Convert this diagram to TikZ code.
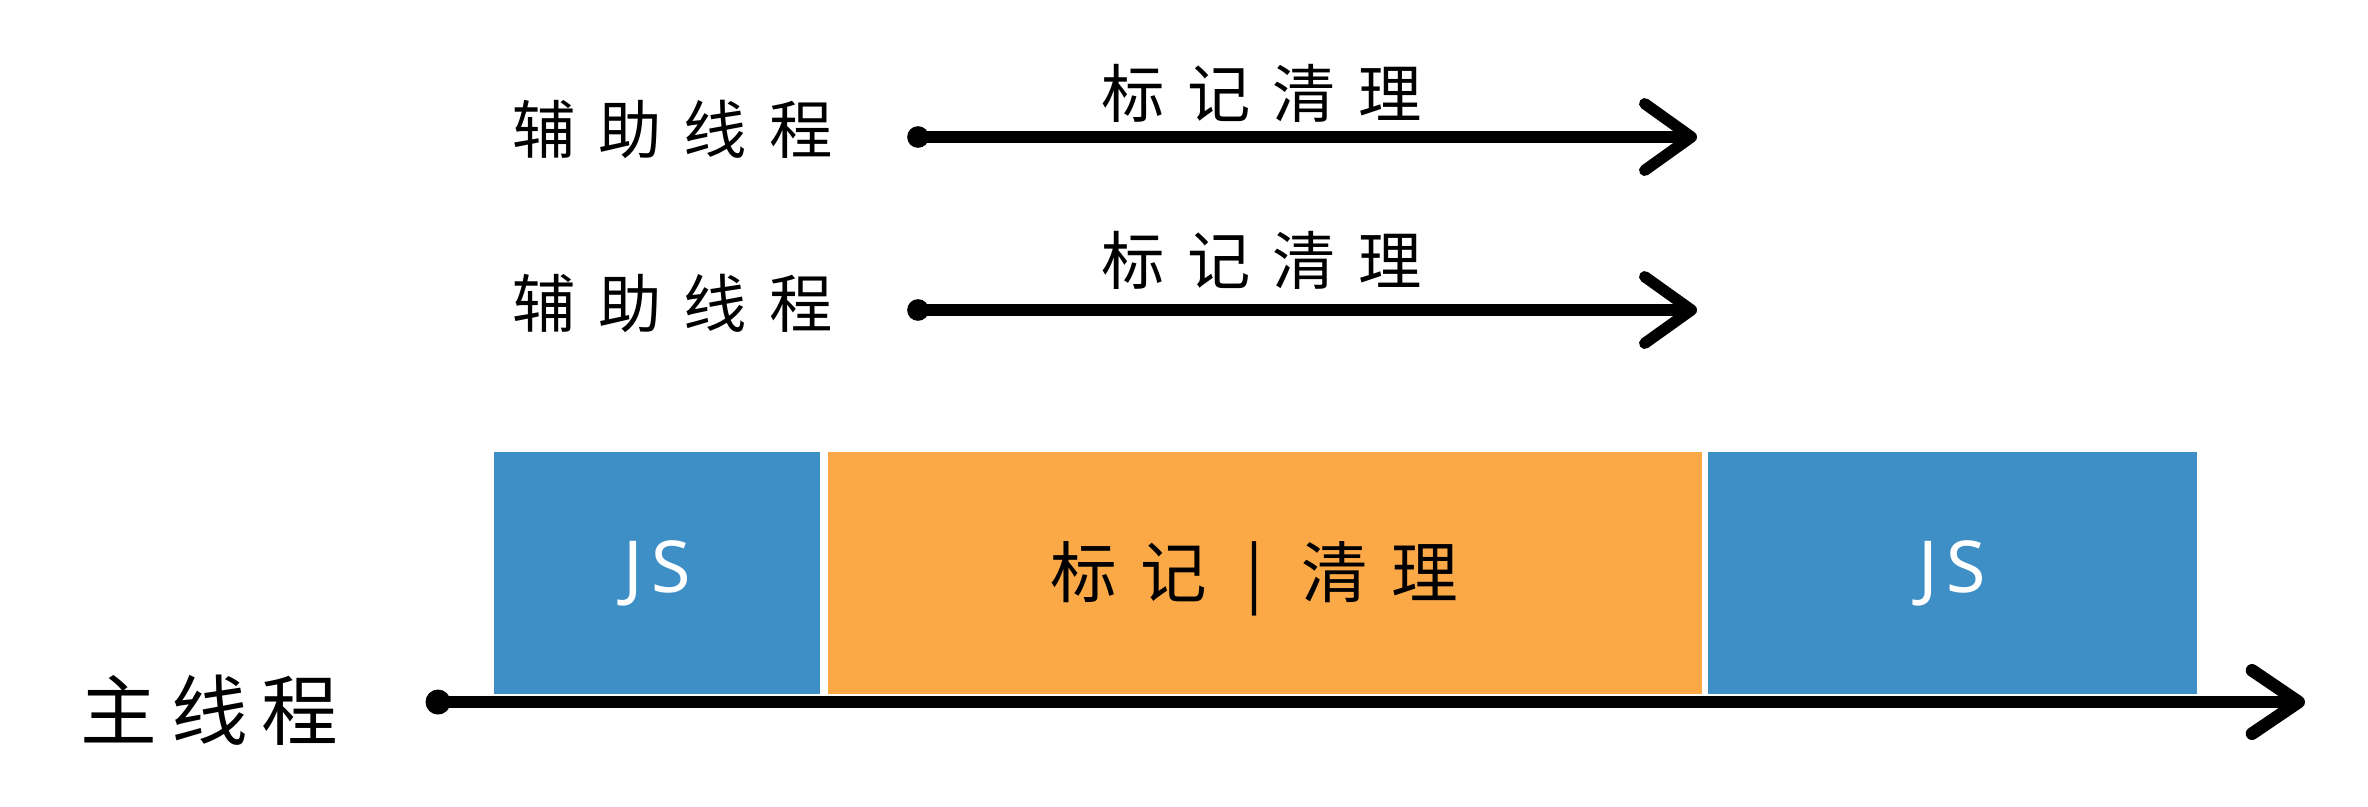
\documentclass[tikz,border=0pt]{standalone}
\usepackage{fontspec}
\usetikzlibrary{arrows.meta}
\newfontfamily\cjk[LetterSpace=35]{Noto Sans CJK SC}
\newfontfamily\cjkmain[LetterSpace=18]{Noto Sans CJK SC}
\newfontfamily\jsfont[LetterSpace=12]{Noto Sans}
\definecolor{jsblue}{HTML}{3F8FC7}
\definecolor{gcorange}{HTML}{FBA847}
\tikzset{
  lbl/.style={inner sep=0pt, anchor=west, font=\cjk\fontsize{19}{19}\selectfont},
  mainlbl/.style={inner sep=0pt, anchor=west, font=\cjkmain\fontsize{23}{23}\selectfont},
  blk/.style={draw=none, inner sep=0pt, minimum height=72.6pt},
  jsblk/.style={blk, fill=jsblue, text=white, font=\jsfont\fontsize{21.5}{21.5}\selectfont},
  gcblk/.style={blk, fill=gcorange},
  gctext/.style={inner sep=0pt, anchor=west, text=black, font=\cjk\fontsize{20}{20}\selectfont},
  thread/.style={line width=3.4pt, line cap=round,
    -{Straight Barb[length=14pt, width=20pt, line width=3.4pt, round]}},
  mainthread/.style={line width=3.8pt, line cap=round,
    -{Straight Barb[length=14pt, width=19pt, line width=3.8pt, round]}},
  blob/.style={circle, fill=black, inner sep=0pt, minimum size=6.5pt}
}
\begin{document}
\begin{tikzpicture}[x=0.3pt, y=-0.3pt]
\useasboundingbox (0,0) rectangle (2368,806);
% helper thread 1
\node[lbl] (h1) at (512,129) {辅助线程};
\coordinate (h1s) at (918,137);
\coordinate (h1e) at (1697,137);
\node[blob] (h1b) at (h1s) {};
\draw[thread] (h1s) -- (h1e);
\node[lbl] (m1) at (1101,93) {标记清理};
% helper thread 2
\node[lbl] (h2) at (512,303) {辅助线程};
\coordinate (h2s) at (918,310);
\coordinate (h2e) at (1697,310);
\node[blob] (h2b) at (h2s) {};
\draw[thread] (h2s) -- (h2e);
\node[lbl] (m2) at (1101,260) {标记清理};
% main thread blocks
\node[jsblk, minimum width=97.8pt] (js1) at (657,573) {JS};
\node[gcblk, minimum width=262.2pt] (gc) at (1265,573) {};
\node[gctext] (gct) at (1050,579) {标记 | 清理};
\node[jsblk, minimum width=146.7pt] (js2) at (1952.5,573) {JS};
% main thread
\node[mainlbl] (mt) at (80,710) {主线程};
\coordinate (ms) at (438,702);
\coordinate (me) at (2305,702);
\node[blob, minimum size=7.5pt] (mb) at (ms) {};
\draw[mainthread] (ms) -- (me);
\end{tikzpicture}
\end{document}
